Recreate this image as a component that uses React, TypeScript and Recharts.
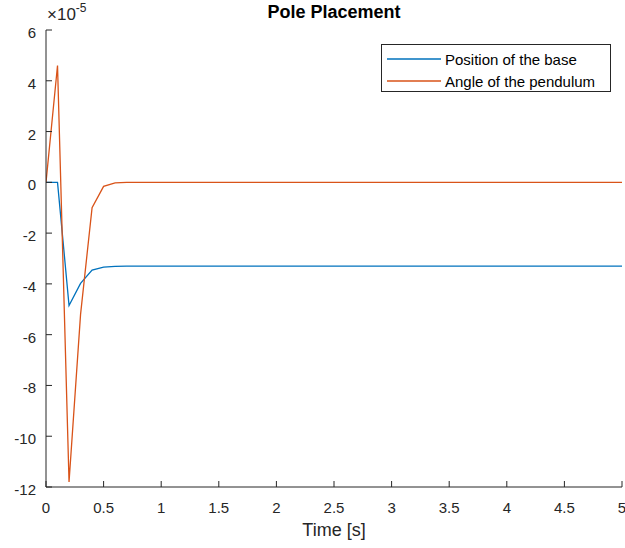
import { LineChart, Line, XAxis, YAxis, Legend } from 'recharts'

// time samples [s] and responses (in units of 1e-5)
const timeSec = [0, 0.1, 0.2, 0.3, 0.4, 0.5, 0.6, 0.7, 0.8, 0.9, 1.0, 5]
const basePosition = [0, 0, -4.85, -3.98, -3.46, -3.34, -3.31, -3.3, -3.3, -3.3, -3.3, -3.3]
const pendulumAngle = [0, 4.6, -11.8, -5.2, -1.0, -0.16, -0.02, 0, 0, 0, 0, 0]

const xTicks = [0, 0.5, 1, 1.5, 2, 2.5, 3, 3.5, 4, 4.5, 5]
const yTicks = [-12, -10, -8, -6, -4, -2, 0, 2, 4, 6]

const seriesNames = ['Position of the base', 'Angle of the pendulum']
const seriesColors = ['#0072BD', '#D95319']

const data = timeSec.map((t, i) => ({
  t,
  base: basePosition[i],
  angle: pendulumAngle[i],
}))

const AXIS = '#262626'
const TICK = 6
const FONT = '"Liberation Sans", Arial, Helvetica, sans-serif'

function BottomTick({ x, y, payload }: any) {
  return (
    <g>
      <line x1={x} y1={y} x2={x} y2={y - TICK} stroke={AXIS} />
      <text x={x} y={y + 26} textAnchor="middle" fill={AXIS} fontSize={15}>
        {payload.value}
      </text>
    </g>
  )
}

function TopTick({ x, y }: any) {
  return <line x1={x} y1={y} x2={x} y2={y + TICK} stroke={AXIS} />
}

function LeftTick({ x, y, payload }: any) {
  return (
    <g>
      <line x1={x} y1={y} x2={x + TICK} y2={y} stroke={AXIS} />
      <text x={x - 10} y={y + 8} textAnchor="end" fill={AXIS} fontSize={15}>
        {payload.value}
      </text>
    </g>
  )
}

function RightTick({ x, y }: any) {
  return <line x1={x} y1={y} x2={x - TICK} y2={y} stroke={AXIS} />
}

function LegendBox() {
  return (
    <div
      style={{
        width: 230,
        height: 48,
        boxSizing: 'border-box',
        border: `1px solid ${AXIS}`,
        background: '#fff',
        paddingTop: 3,
        fontFamily: FONT,
        fontSize: 15,
        color: '#000',
      }}
    >
      {seriesNames.map((name, i) => (
        <div key={name} style={{ display: 'flex', alignItems: 'center', height: 22 }}>
          <svg width={63} height={22}>
            <line x1={5} y1={11} x2={59} y2={11} stroke={seriesColors[i]} strokeWidth={1.3} />
          </svg>
          <span style={{ whiteSpace: 'nowrap' }}>{name}</span>
        </div>
      ))}
    </div>
  )
}

export default function App() {
  return (
    <div style={{ position: 'absolute', left: 0, top: 0, width: 625, height: 548, background: '#fff', fontFamily: FONT }}>
      <LineChart
        width={625}
        height={548}
        data={data}
        margin={{ top: 30, right: 3, bottom: 31, left: 0 }}
        style={{ fontFamily: FONT }}
      >
        <XAxis
          xAxisId="bottom"
          dataKey="t"
          type="number"
          domain={[0, 5]}
          ticks={xTicks}
          interval={0}
          height={30}
          tickSize={0}
          tickMargin={0}
          tickLine={false}
          axisLine={{ stroke: AXIS }}
          tick={<BottomTick />}
          allowDataOverflow
        />
        <XAxis
          xAxisId="top"
          orientation="top"
          dataKey="t"
          type="number"
          domain={[0, 5]}
          ticks={xTicks}
          interval={0}
          height={0}
          tickSize={0}
          tickMargin={0}
          tickLine={false}
          axisLine={{ stroke: AXIS }}
          tick={<TopTick />}
          allowDataOverflow
        />
        <YAxis
          yAxisId="left"
          type="number"
          domain={[-12, 6]}
          ticks={yTicks}
          interval={0}
          width={46}
          tickSize={0}
          tickMargin={0}
          tickLine={false}
          axisLine={{ stroke: AXIS }}
          tick={<LeftTick />}
          allowDataOverflow
        />
        <YAxis
          yAxisId="right"
          orientation="right"
          type="number"
          domain={[-12, 6]}
          ticks={yTicks}
          interval={0}
          width={0}
          tickSize={0}
          tickMargin={0}
          tickLine={false}
          axisLine={{ stroke: AXIS }}
          tick={<RightTick />}
          allowDataOverflow
        />
        <Legend
          layout="vertical"
          align="center"
          verticalAlign="middle"
          content={<LegendBox />}
          wrapperStyle={{ left: 381, top: 44, width: 230, height: 48 }}
        />
        <Line
          xAxisId="bottom"
          yAxisId="left"
          type="linear"
          dataKey="base"
          name={seriesNames[0]}
          stroke={seriesColors[0]}
          strokeWidth={1.3}
          dot={false}
          isAnimationActive={false}
        />
        <Line
          xAxisId="bottom"
          yAxisId="left"
          type="linear"
          dataKey="angle"
          name={seriesNames[1]}
          stroke={seriesColors[1]}
          strokeWidth={1.3}
          dot={false}
          isAnimationActive={false}
        />
      </LineChart>
      <div
        style={{
          position: 'absolute',
          left: 46,
          width: 576,
          top: 2,
          textAlign: 'center',
          fontWeight: 'bold',
          fontSize: 18,
          color: '#000',
        }}
      >
        Pole Placement
      </div>
      <div
        style={{
          position: 'absolute',
          left: 46,
          width: 576,
          top: 520,
          textAlign: 'center',
          fontSize: 18,
          color: AXIS,
        }}
      >
        Time [s]
      </div>
      <div style={{ position: 'absolute', left: 47, top: 5, fontSize: 17, color: AXIS, whiteSpace: 'nowrap' }}>
        ×10<sup style={{ fontSize: 12, verticalAlign: 'top', position: 'relative', top: -4 }}>-5</sup>
      </div>
    </div>
  )
}
